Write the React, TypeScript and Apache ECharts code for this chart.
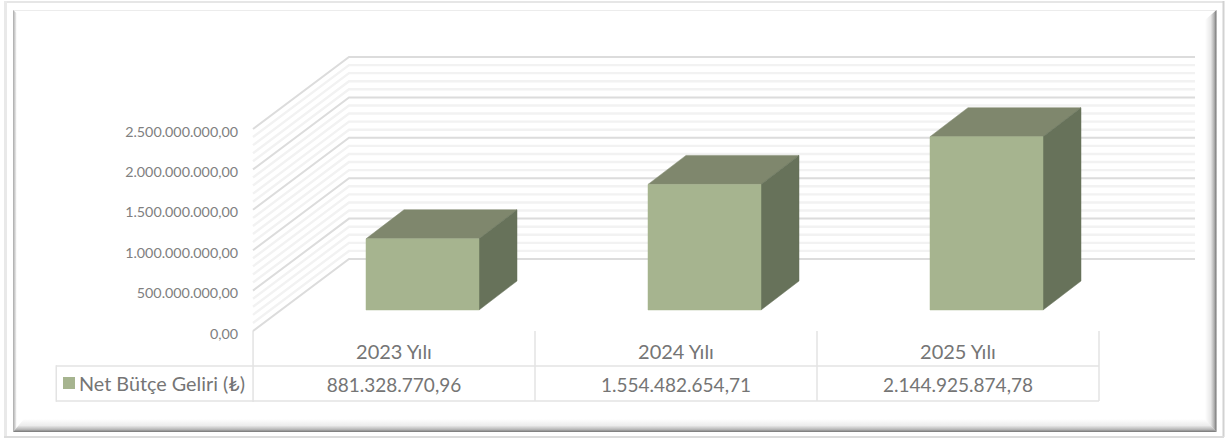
import React, { useEffect, useRef } from "react";
import * as echarts from "echarts";

const categories = ["2023 Yılı", "2024 Yılı", "2025 Yılı"];
const seriesName = "Net Bütçe Geliri (₺)";
const netRevenue = [881328770.96, 1554482654.71, 2144925874.78];
const majorTicks = [0, 500000000, 1000000000, 1500000000, 2000000000, 2500000000];
const minorTicks = [
  100000000, 200000000, 300000000, 400000000,
  600000000, 700000000, 800000000, 900000000,
  1100000000, 1200000000, 1300000000, 1400000000,
  1600000000, 1700000000, 1800000000, 1900000000,
  2100000000, 2200000000, 2300000000, 2400000000,
];

const FONT = "Lato, Carlito, 'Open Sans', sans-serif";
const WALL_DX = 96;
const WALL_DY = -72;
const BAR_DX = 38;
const BAR_DY = -29;
const BAR_W = 113;
const BAR_SHIFT_X = 28.5;
const BAR_SHIFT_Y = -21;

const fmtTr = (v: number) => {
  const [a, b] = v.toFixed(2).split(".");
  return a.replace(/\B(?=(\d{3})+(?!\d))/g, ".") + "," + b;
};

const gradV = (stops: [number, string][]) =>
  new echarts.graphic.LinearGradient(
    0, 0, 0, 1,
    stops.map(([offset, color]) => ({ offset, color }))
  );
const gradH = (stops: [number, string][]) =>
  new echarts.graphic.LinearGradient(
    0, 0, 1, 0,
    stops.map(([offset, color]) => ({ offset, color }))
  );

const wallLine = (color: string, width: number) => (params: any, api: any) => {
  const cs = params.coordSys;
  const y = api.coord([0, api.value(1)])[1];
  return {
    type: "polyline",
    silent: true,
    shape: {
      points: [
        [cs.x, y],
        [cs.x + WALL_DX, y + WALL_DY],
        [cs.x + cs.width + WALL_DX, y + WALL_DY],
      ],
    },
    style: { stroke: color, lineWidth: width, fill: "none" },
  };
};

const renderBar = (_params: any, api: any) => {
  const [cx, yTop0] = api.coord([api.value(0), api.value(1)]);
  const [, yBase0] = api.coord([api.value(0), 0]);
  const xL = cx + BAR_SHIFT_X - BAR_W / 2;
  const xR = xL + BAR_W;
  const yT = yTop0 + BAR_SHIFT_Y;
  const yB = yBase0 + BAR_SHIFT_Y;
  const poly = (points: number[][], fill: string) => ({
    type: "polygon",
    silent: true,
    shape: { points },
    style: { fill, stroke: fill, lineWidth: 0.5 },
  });
  return {
    type: "group",
    children: [
      poly([[xL, yT], [xL + BAR_DX, yT + BAR_DY], [xR + BAR_DX, yT + BAR_DY], [xR, yT]], "#7f876d"),
      poly([[xR, yT], [xR + BAR_DX, yT + BAR_DY], [xR + BAR_DX, yB + BAR_DY], [xR, yB]], "#67725a"),
      poly([[xL, yT], [xR, yT], [xR, yB], [xL, yB]], "#a6b48f"),
    ],
  };
};

const renderTableCell = (params: any, api: any) => {
  const cs = params.coordSys;
  const bandW = cs.width / categories.length;
  const i = api.value(0);
  const cx = api.coord([i, 0])[0];
  const y0 = cs.y + cs.height;
  const right = cx + bandW / 2;
  const left = cx - bandW / 2;
  const line = (x1: number, y1: number, x2: number, y2: number) => ({
    type: "line",
    silent: true,
    shape: { x1, y1, x2, y2 },
    style: { stroke: "#e3e3e3", lineWidth: 1.5 },
  });
  return {
    type: "group",
    children: [
      line(right, y0, right, y0 + 70),
      line(left, y0 + 35, right, y0 + 35),
      line(left, y0 + 70, right, y0 + 70),
      {
        type: "text",
        silent: true,
        style: {
          text: fmtTr(api.value(1)),
          x: cx,
          y: y0 + 53,
          align: "center",
          verticalAlign: "middle",
          fill: "#757575",
          font: `19px ${FONT}`,
        },
      },
    ],
  };
};

export default function App() {
  const ref = useRef<HTMLDivElement>(null);
  useEffect(() => {
    if (!ref.current) return;
    const chart = echarts.init(ref.current, undefined, { renderer: "svg" });
    const rect = (x: number, y: number, width: number, height: number, fill: any) => ({
      type: "rect",
      silent: true,
      shape: { x, y, width, height },
      style: { fill },
    });
    const polygon = (points: number[][], fill: any) => ({
      type: "polygon",
      silent: true,
      shape: { points },
      style: { fill },
    });
    chart.setOption({
      animation: false,
      backgroundColor: "#ffffff",
      textStyle: { fontFamily: FONT },
      grid: [
        { left: 253, top: 129, width: 846, height: 202, containLabel: false },
        // carries the value labels, which sit 2px below their gridlines
        { left: 253, top: 131, width: 846, height: 202, containLabel: false },
      ],
      xAxis: [
        {
          type: "category",
          data: categories,
          axisLine: { show: false },
          axisTick: { show: false },
          splitLine: { show: false },
          axisLabel: { color: "#757575", fontSize: 20, fontFamily: FONT, margin: 10 },
        },
        {
          type: "category",
          gridIndex: 1,
          data: categories,
          show: false,
        },
      ],
      yAxis: [
        {
          type: "value",
          min: 0,
          max: 2500000000,
          interval: 500000000,
          axisLine: { show: false },
          axisTick: { show: false },
          splitLine: { show: false },
          axisLabel: { show: false },
        },
        {
          type: "value",
          gridIndex: 1,
          min: 0,
          max: 2500000000,
          interval: 500000000,
          axisLine: { show: false },
          axisTick: { show: false },
          splitLine: { show: false },
          axisLabel: {
            color: "#808080",
            fontSize: 14.3,
            fontFamily: FONT,
            margin: 15,
            formatter: (v: number) => fmtTr(v),
          },
        },
      ],
      legend: {
        left: 63,
        top: 373,
        padding: 0,
        itemWidth: 12,
        itemHeight: 12,
        data: [{ name: seriesName, icon: "rect" }],
        selectedMode: false,
        textStyle: { color: "#757575", fontSize: 19.8, fontFamily: FONT, padding: [0, 0, 0, -1] },
      },
      series: [
        {
          type: "custom",
          name: "minor",
          clip: false,
          silent: true,
          z: 1,
          encode: { x: 0, y: 1 },
          data: minorTicks.map((v) => [0, v]),
          renderItem: wallLine("#f2f2f2", 2.4),
        },
        {
          type: "custom",
          name: "major",
          clip: false,
          silent: true,
          z: 2,
          encode: { x: 0, y: 1 },
          data: majorTicks.map((v) => [0, v]),
          renderItem: wallLine("#dcdcdc", 2),
        },
        {
          type: "custom",
          name: seriesName,
          clip: false,
          silent: true,
          z: 3,
          itemStyle: { color: "#a6b48f" },
          encode: { x: 0, y: 1 },
          data: netRevenue.map((v, i) => [i, v]),
          renderItem: renderBar,
        },
        {
          type: "custom",
          name: "table",
          clip: false,
          silent: true,
          z: 4,
          encode: { x: 0 },
          data: netRevenue.map((v, i) => [i, v]),
          renderItem: renderTableCell,
        },
      ],
      graphic: {
        elements: [
          // data table, legend cell and the first vertical rule
          rect(56, 365.3, 197, 1.5, "#e3e3e3"),
          rect(56, 400.3, 197, 1.5, "#e3e3e3"),
          rect(55.5, 365.3, 1.5, 36.5, "#e3e3e3"),
          rect(252.3, 331, 1.5, 71, "#e3e3e3"),
          // outer frame
          rect(4, 1, 1220, 2, "#e6e6e6"),
          rect(4, 1, 3, 436, "#e9e9e9"),
          rect(1222.5, 1, 2, 436, "#d2d2d2"),
          rect(4, 436, 1220, 2, "#dcdcdc"),
          // inner bevel
          rect(13, 10, 1203, 1, "#ececec"),
          polygon([[13, 10], [16.5, 13], [16.5, 428], [13, 432]], gradH([[0, "#a9a9a9"], [0.5, "#cfcfcf"], [1, "#f4f4f4"]])),
          polygon([[1216.5, 10], [1216.5, 432], [1205, 420], [1205, 20]], gradH([[0, "#ffffff"], [0.5, "#e8e8e8"], [0.8, "#b0b0b0"], [1, "#6f6f6f"]])),
          polygon([[13, 432], [1216.5, 432], [1205, 419], [24, 419]], gradV([[0, "#ffffff"], [0.5, "#ececec"], [0.8, "#b8b8b8"], [1, "#757575"]])),
        ],
      },
    });
    return () => chart.dispose();
  }, []);
  return <div ref={ref} style={{ position: "fixed", left: 0, top: 0, width: 1227, height: 439 }} />;
}
